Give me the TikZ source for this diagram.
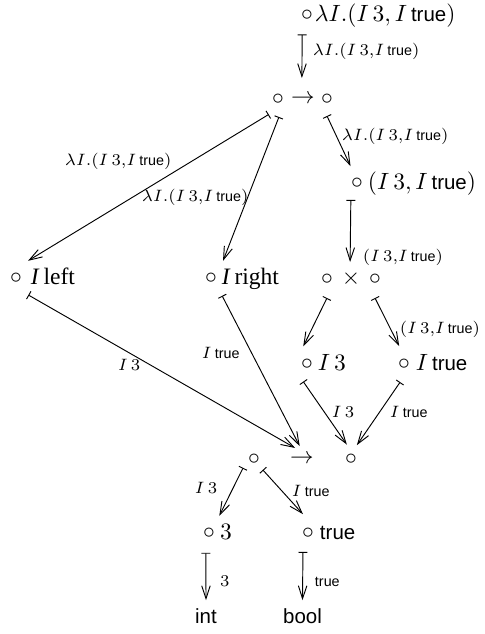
\documentclass[tikz,border=0pt]{standalone}
\usepackage{amsmath}
\usepackage{fontspec}
\setsansfont{Liberation Sans}[Scale=0.87]
\newfontfamily\tmsfont{Liberation Serif}
\usetikzlibrary{arrows.meta}
\newcommand\mylam{\lambda I.(I\,3, I\,\textsf{true})}
\newcommand\mypair{(I\,3, I\,\textsf{true})}
\newcommand\mylamS{\scriptstyle\lambda I.(I\,3,I\,\textsf{true})}
\newcommand\mypairS{\scriptstyle(I\,3,I\,\textsf{true})}
\tikzset{
  port/.style={circle, inner sep=0pt, outer sep=0pt, minimum size=#1*0.85pt},
  ent/.style={inner sep=0pt, outer sep=0pt, anchor=base west},
  tment/.style={ent, font=\tmsfont},
  lab/.style={inner sep=0pt, outer sep=0pt, anchor=west},
  tyname/.style={inner sep=0pt, inner ysep=3.4pt, outer sep=0pt, anchor=base},
  mapsto/.style={line width=0.4pt,
    {Bar[width=3.8pt,line width=0.4pt]}-{Straight Barb[length=5.5pt,width=3.6pt,line width=0.4pt]}},
}
\begin{document}
\begin{tikzpicture}[x=0.425pt,y=-0.425pt]
\useasboundingbox (0,0) rectangle (485,634);
% circle nodes (ports) and entry texts
\node[port=20] (T) at (307,15) {$\circ$};
\node[ent] (Ttxt) at (315,21) {$\mylam$};
\node[port=18] (F1) at (278,99) {$\circ$};
\node[port=21] (arF) at (303,99) {$\to$};
\node[port=17] (F2) at (327,99) {$\circ$};
\node[port=18] (P) at (357,183) {$\circ$};
\node[ent] (Ptxt) at (368,189) {$\mypair$};
\node[port=19] (X1) at (327,279) {$\circ$};
\node[port=17] (Xt) at (351,279) {$\times$};
\node[port=19] (X2) at (375,279) {$\circ$};
\node[port=21] (Il) at (16,278) {$\circ$};
\node[tment] (Iltxt) at (31,284) {\itshape I\hspace{2pt}\upshape left};
\node[port=21] (Ir) at (211,278) {$\circ$};
\node[tment] (Irtxt) at (222,284) {\itshape I\hspace{2pt}\upshape right};
\node[port=18] (I3) at (307,364) {$\circ$};
\node[ent] (I3txt) at (318,370) {$I\,3$};
\node[port=18.5] (It) at (404,364) {$\circ$};
\node[ent] (Ittxt) at (416,370) {$I\,\textsf{true}$};
\node[port=14] (B1) at (254,459) {$\circ$};
\node[port=13] (arB) at (302,459) {$\to$};
\node[port=15] (B2) at (351,459) {$\circ$};
\node[port=20] (c3) at (209,533) {$\circ$};
\node[ent] (c3txt) at (220,539) {$3$};
\node[port=19.5] (ct) at (308,533) {$\circ$};
\node[ent] (cttxt) at (320,539) {\textsf{true}};
\node[tyname] (int) at (206,623) {\textsf{int}};
\node[tyname] (bool) at (302.5,623) {\textsf{bool}};
% connectors
\draw[mapsto] (T.-104) -- (arF.93);
\draw[mapsto] (F2.-90) -- (P.111);
\draw[mapsto] (P.-110) -- (Xt.93);
\draw[mapsto] (X1.-90) -- (I3.102);
\draw[mapsto] (X2.-90) -- (It.105);
\draw[mapsto] (I3.-102) -- (B2.106);
\draw[mapsto] (It.-102) -- (B2.67);
\draw[mapsto] (F1.-121) -- (Il.55);
\draw[mapsto] (F1.-87) -- (Ir.55);
\draw[mapsto] (Il.-54) -- (arB.122);
\draw[mapsto] (Ir.-58) -- (arB.100);
\draw[mapsto] (B1.-141) -- (c3.59);
\draw[mapsto] (B1.-51) -- (ct.105);
\draw[mapsto] (c3.-99) -- (int.north);
\draw[mapsto] (ct.-105) -- (bool.north);
% labels
\node[lab] (L1) at (313,51) {$\mylamS$};
\node[lab] (L2) at (342,136) {$\mylamS$};
\node[lab] (L3) at (363,257) {$\mypairS$};
\node[lab] (L5) at (400,329) {$\mypairS$};
\node[lab] (L6) at (332,412) {$\scriptstyle I\,3$};
\node[lab] (L7) at (390,412) {$\scriptstyle I\,\textsf{true}$};
\node[lab] (L8) at (65,161) {$\mylamS$};
\node[lab] (L9) at (142,197) {$\mylamS$};
\node[lab] (L10) at (118,365) {$\scriptstyle I\,3$};
\node[lab] (L11) at (202,353) {$\scriptstyle I\,\textsf{true}$};
\node[lab] (L12) at (195,488) {$\scriptstyle I\,3$};
\node[lab] (L13) at (292,491) {$\scriptstyle I\,\textsf{true}$};
\node[lab] (L14) at (220,581) {$\scriptstyle 3$};
\node[lab] (L15) at (315,582) {$\scriptstyle\textsf{true}$};
\end{tikzpicture}
\end{document}
